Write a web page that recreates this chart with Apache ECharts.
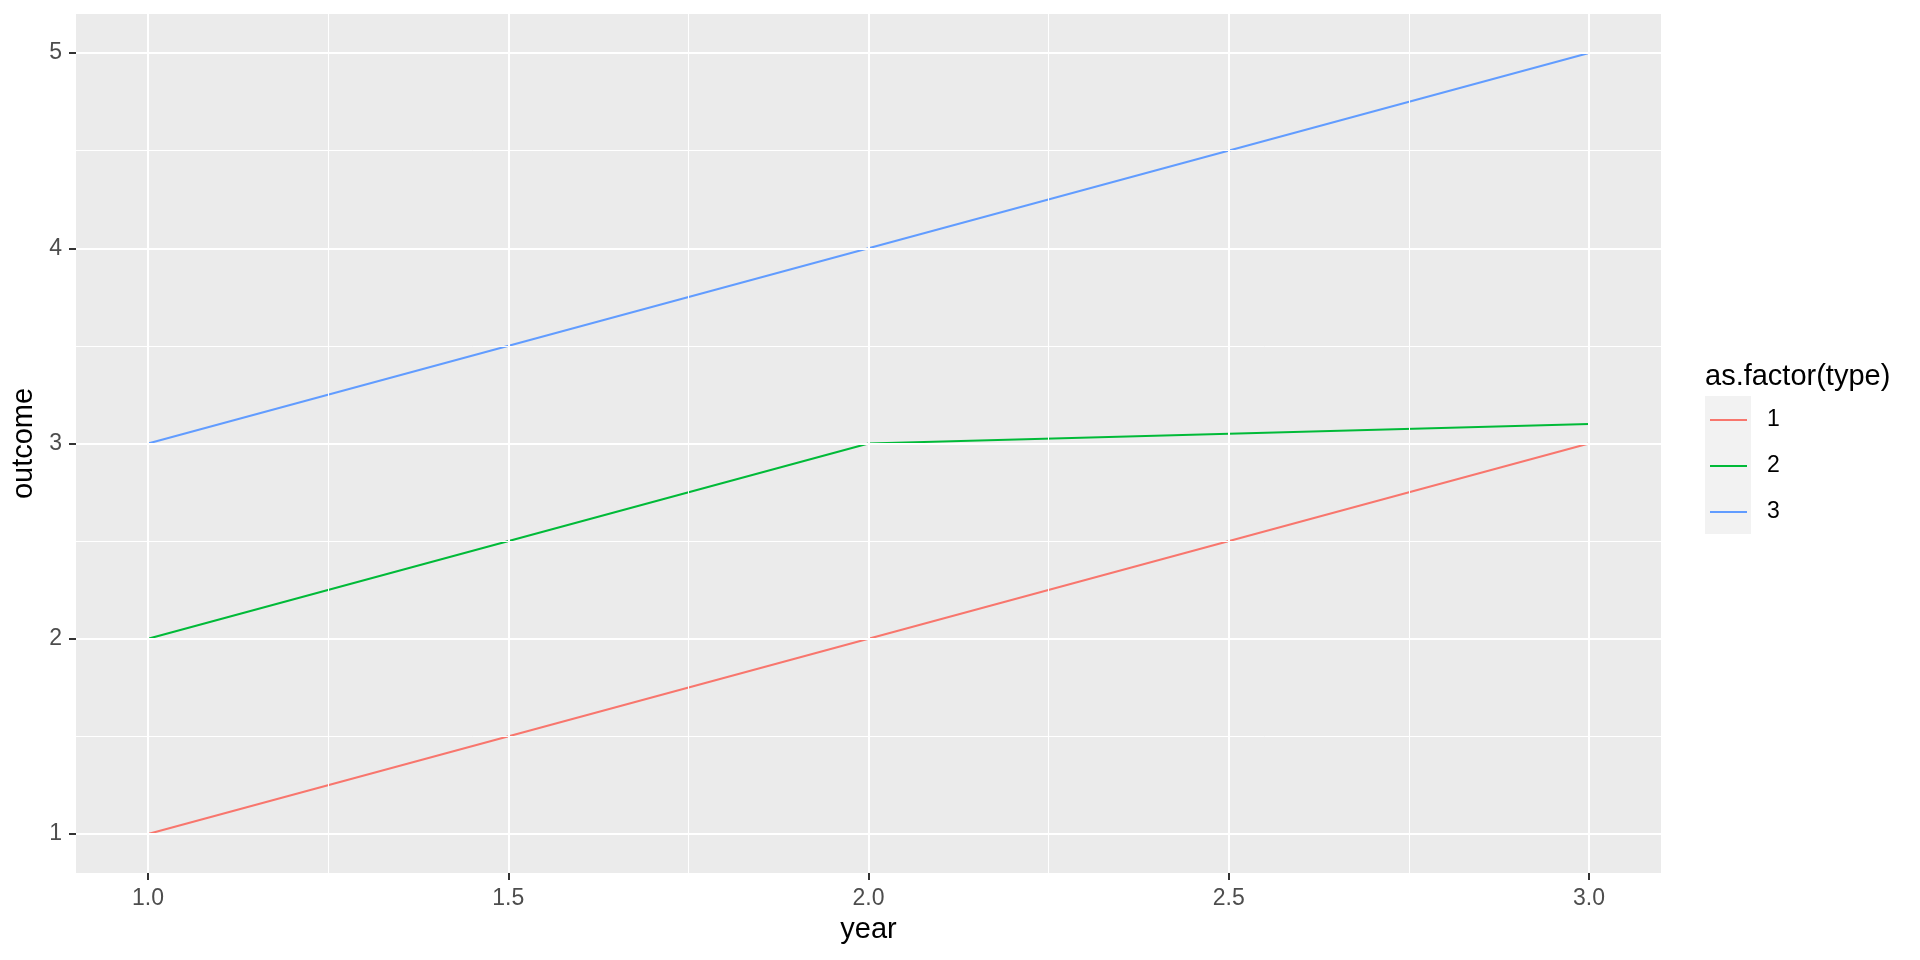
<!DOCTYPE html>
<html>
<head>
<meta charset="utf-8">
<style>html,body{margin:0;padding:0;background:#fff;}#c{width:1920px;height:960px;}</style>
<script src="https://cdn.jsdelivr.net/npm/echarts@6/dist/echarts.min.js"></script>
</head>
<body>
<div id="c"></div>
<script>
const years = [1, 2, 3];
const type1 = [1, 2, 3];
const type2 = [2, 3, 3.1];
const type3 = [3, 4, 5];
const seriesNames = ['1', '2', '3'];
const seriesColors = ['#F8766D', '#00BA38', '#619CFF'];
const xTicks = [1, 1.5, 2, 2.5, 3];
const xMinor = [1.25, 1.75, 2.25, 2.75];
const yTicks = [1, 2, 3, 4, 5];
const yMinor = [1.5, 2.5, 3.5, 4.5];

const chart = echarts.init(document.getElementById('c'), null, {renderer: 'canvas'});
const font = 'Liberation Sans, Arial, sans-serif';
const values = [type1, type2, type3];

const gridLines = [];
xMinor.forEach(v => gridLines.push({xAxis: v, lineStyle: {width: 1}}));
yMinor.forEach(v => gridLines.push({yAxis: v, lineStyle: {width: 1}}));
xTicks.forEach(v => gridLines.push({xAxis: v, lineStyle: {width: 2}}));
yTicks.forEach(v => gridLines.push({yAxis: v, lineStyle: {width: 2}}));

const series = [{
  name: 'grid',
  type: 'line',
  data: [],
  z: 1,
  silent: true,
  markLine: {
    silent: true,
    animation: false,
    symbol: ['none', 'none'],
    label: {show: false},
    lineStyle: {color: '#ffffff', type: 'solid'},
    emphasis: {disabled: true},
    data: gridLines
  }
}];
seriesNames.forEach((n, i) => {
  series.push({
    name: n,
    type: 'line',
    data: years.map((y, j) => [y, values[i][j]]),
    showSymbol: false,
    symbol: 'none',
    z: 3,
    animation: false,
    lineStyle: {color: seriesColors[i], width: 2},
    itemStyle: {color: seriesColors[i]}
  });
});

chart.setOption({
  animation: false,
  backgroundColor: '#ffffff',
  title: {
    text: 'as.factor(type)',
    left: 1705,
    top: 362,
    padding: 0,
    textStyle: {fontFamily: font, fontSize: 29, fontWeight: 'normal', color: '#000000'}
  },
  graphic: [{
    type: 'rect',
    z: 0,
    shape: {x: 1705, y: 396, width: 46, height: 138},
    style: {fill: '#f2f2f2'}
  }],
  legend: {
    data: seriesNames,
    orient: 'vertical',
    left: 1710,
    top: 397,
    padding: 0,
    itemGap: 0,
    itemWidth: 37,
    itemHeight: 2,
    icon: 'rect',
    textStyle: {fontFamily: font, fontSize: 23, color: '#000000', lineHeight: 46, padding: [0, 0, 0, 15]}
  },
  grid: {
    left: 76, right: 259, top: 14, bottom: 87,
    show: true, backgroundColor: '#ebebeb', borderWidth: 0
  },
  xAxis: {
    type: 'value',
    min: 0.9, max: 3.1,
    name: 'year',
    nameLocation: 'middle',
    nameGap: 42,
    nameTextStyle: {fontFamily: font, fontSize: 29, color: '#000000'},
    axisLine: {show: false},
    splitLine: {show: false},
    axisTick: {show: true, customValues: xTicks, length: 7, lineStyle: {color: '#333333', width: 2}},
    axisLabel: {customValues: xTicks, margin: 14, fontFamily: font, fontSize: 23, color: '#4d4d4d',
      formatter: v => v.toFixed(1)}
  },
  yAxis: {
    type: 'value',
    min: 0.8, max: 5.2,
    name: 'outcome',
    nameLocation: 'middle',
    nameGap: 33,
    nameRotate: 90,
    nameTextStyle: {fontFamily: font, fontSize: 29, color: '#000000'},
    axisLine: {show: false},
    splitLine: {show: false},
    axisTick: {show: true, customValues: yTicks, length: 7, lineStyle: {color: '#333333', width: 2}},
    axisLabel: {customValues: yTicks, margin: 14, fontFamily: font, fontSize: 23, color: '#4d4d4d',
      formatter: v => String(v)}
  },
  series: series
});
</script>
</body>
</html>
